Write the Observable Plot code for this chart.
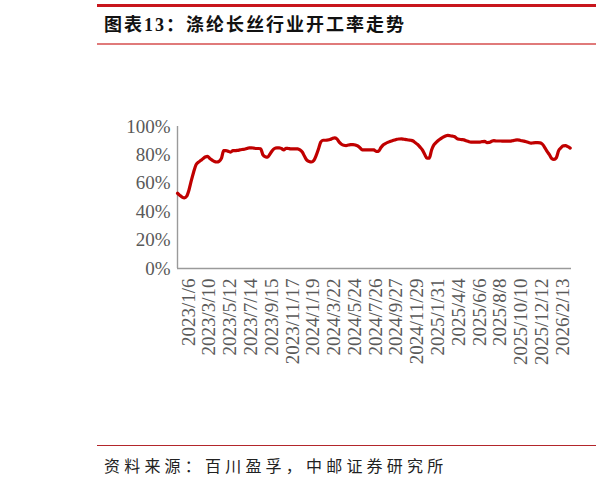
<!DOCTYPE html>
<html>
<head>
<meta charset="utf-8">
<script src="https://cdn.jsdelivr.net/npm/d3@7"></script>
<script src="https://cdn.jsdelivr.net/npm/@observablehq/plot@0.6"></script>
<style>
  body { margin: 0; background: #fff; }
  #wrap { position: relative; width: 596px; height: 485px; overflow: hidden; background: #fff; }
  .abs { position: absolute; }
  #title { left: 104px; top: 16px; font: bold 18px "Liberation Serif", "Noto Sans CJK SC", serif; letter-spacing: 2px; line-height: 18px; color: #111; white-space: nowrap; }
  #caption { left: 104px; top: 457px; font: 16px "Noto Sans CJK SC", sans-serif; letter-spacing: 4.2px; line-height: 16px; color: #222; white-space: nowrap; }
  #plot { left: 0; top: 0; }
</style>
</head>
<body>
<div id="wrap">
  <div class="abs" style="left:97px;top:4px;width:499px;height:2.5px;background:#c8161d"></div>
  <div class="abs" id="title">图表13：涤纶长丝行业开工率走势</div>
  <div class="abs" style="left:97px;top:43px;width:499px;height:1.5px;background:#e07a7a"></div>
  <div class="abs" style="left:97px;top:444.5px;width:499px;height:1px;background:#b3262b"></div>
  <div class="abs" id="caption">资料来源：百川盈孚，中邮证券研究所</div>
  <div class="abs" id="plot"></div>
</div>
<script>
// Weekly series, first week ending 2023/1/6
const startDate = "2023/1/6";
const rates = [
  53, 51.5, 50.3, 49.8, 51, 55.5, 62, 68, 73, 74.8,
  76, 77.3, 78.5, 79, 77.5, 76.3, 75.3, 75, 75.5, 77.5,
  83, 83, 82.5, 82, 83, 83, 83.2, 83.5, 83.8, 84,
  84.5, 85, 85, 84.8, 84.5, 84.5, 84.3, 80, 78.7, 78.4,
  80.5, 83, 84.5, 85, 85, 84.5, 83.6, 84.7, 84.5, 84.3,
  84.3, 84.3, 84.2, 83.5, 82, 79, 76.3, 75.3, 75, 76,
  79.5, 84, 89, 90.3, 90.3, 90.5, 90.8, 91.5, 92, 91.3,
  89, 87.5, 86.8, 86.6, 87, 87.2, 87.3, 87, 86.3, 85,
  83.6, 83.6, 83.6, 83.6, 83.6, 83.5, 82.5, 82.5, 85, 87,
  88, 88.8, 89.5, 90, 90.5, 91, 91.2, 91.3, 91, 90.8,
  90.5, 90.3, 89.8, 88.5, 87.3, 85.5, 83.5, 80.5, 77.7, 77.7,
  83.5, 87, 88.8, 90.3, 91.5, 92.5, 93.3, 93.7, 93.5, 93.2,
  92.8, 91.5, 91, 90.8, 90.6, 90, 89.4, 89, 89, 89,
  89, 89, 89.4, 89.5, 88.7, 88.8, 89.6, 90, 89.8, 89.8,
  89.8, 89.7, 89.7, 89.7, 89.7, 90, 90.3, 90.6, 90.4, 90,
  89.7, 89.2, 88.7, 88.3, 88.5, 88.6, 88.6, 88.5, 87.5, 85.2,
  82.5, 80.2, 77.5, 76.8, 78, 83, 85, 86.4, 86.5, 85.8,
  84.8
];
const xTickLabels = [
  "2023/1/6", "2023/3/10", "2023/5/12", "2023/7/14", "2023/9/15", "2023/11/17",
  "2024/1/19", "2024/3/22", "2024/5/24", "2024/7/26", "2024/9/27", "2024/11/29",
  "2025/1/31", "2025/4/4", "2025/6/6", "2025/8/8", "2025/10/10", "2025/12/12", "2026/2/13"
];
const yTicks = [0, 20, 40, 60, 80, 100];

const parse = d3.utcParse("%Y/%m/%d");
const fmt = d3.utcFormat("%Y/%-m/%-d");
const d0 = parse(startDate);
const data = rates.map((v, i) => ({ date: d3.utcWeek.offset(d0, i), value: v }));
const tickDates = xTickLabels.map(parse);
const lastDate = data[data.length - 1].date;

const chart = Plot.plot({
  width: 596,
  height: 485,
  marginLeft: 177,
  marginRight: 25,
  marginTop: 126,
  marginBottom: 217,
  style: { fontFamily: "'Liberation Serif', 'Times New Roman', serif", color: "#595959", background: "transparent" },
  x: { type: "utc", domain: [d0, d3.utcDay.offset(lastDate, 4)] },
  y: { domain: [0, 100] },
  marks: [
    Plot.axisY({ ticks: yTicks, tickSize: 0, tickPadding: 7, fontSize: 19, tickFormat: d => d + "%", label: null }),
    Plot.axisX({ ticks: tickDates, tickSize: 0, tickPadding: 10, tickRotate: -90, fontSize: 19, dx: 11, tickFormat: fmt, label: null }),
    Plot.ruleX([d0], { stroke: "#9a9a9a", strokeWidth: 1.4 }),
    Plot.ruleY([0], { stroke: "#9a9a9a", strokeWidth: 1.4 }),
    Plot.line(data, { x: "date", y: "value", stroke: "#c00000", strokeWidth: 3.2, curve: "monotone-x" })
  ]
});
document.getElementById("plot").appendChild(chart);
</script>
</body>
</html>
